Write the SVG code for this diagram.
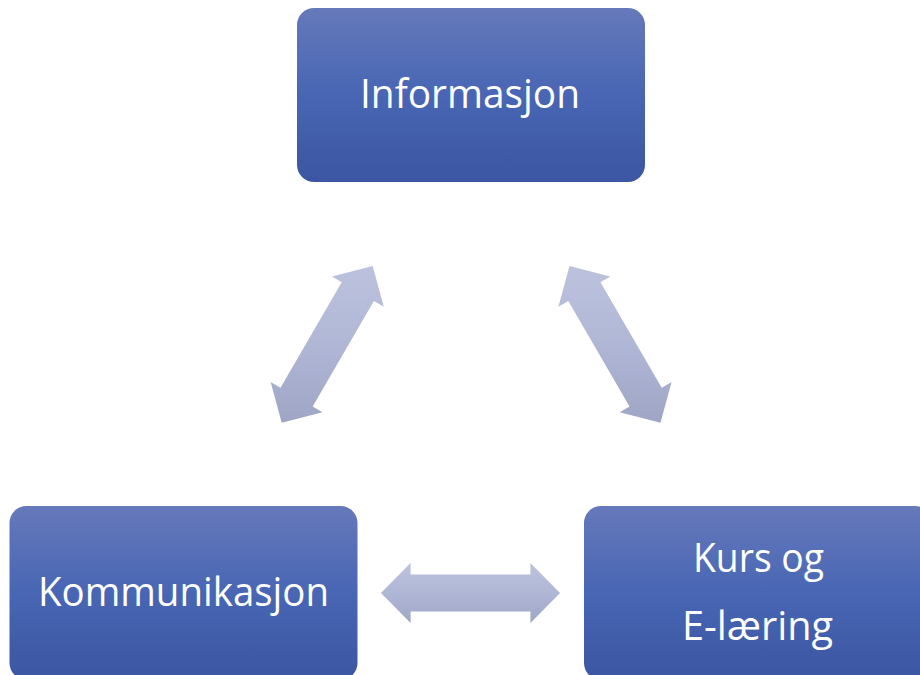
<svg xmlns="http://www.w3.org/2000/svg" width="920" height="675" viewBox="0 0 920 675">
  <defs>
    <linearGradient id="boxGrad" x1="0" y1="0" x2="0" y2="1">
      <stop offset="0" stop-color="#6679BA"/>
      <stop offset="0.5" stop-color="#4866B4"/>
      <stop offset="1" stop-color="#3B56A2"/>
    </linearGradient>
    <linearGradient id="arrowGrad" x1="0" y1="0" x2="0" y2="1">
      <stop offset="0" stop-color="#BCC2DD"/>
      <stop offset="0.5" stop-color="#B0B7D6"/>
      <stop offset="1" stop-color="#9EA5C5"/>
    </linearGradient>
    <style>
      .box { fill: url(#boxGrad); }
      .arrow { fill: url(#arrowGrad); }
      .label { font-family: "Open Sans", "Liberation Sans", sans-serif; font-size: 40px; fill: #FFFFFF; }
    </style>
  </defs>
  <rect width="920" height="675" fill="#FFFFFF"/>

  <g id="connectors">
    <polygon class="arrow" points="372.7,266 383.77,306.67 373.92,300.94 312.66,406.44 322.51,412.17 281.7,422.7 270.63,382.03 280.48,387.76 341.74,282.26 331.89,276.53"/>
    <polygon class="arrow" points="569.5,266 558.43,306.67 568.28,300.94 629.54,406.44 619.69,412.17 660.5,422.7 671.57,382.03 661.72,387.76 600.46,282.26 610.31,276.53"/>
    <polygon class="arrow" points="381,593 410.6,563 410.6,574.5 530.4,574.5 530.4,563 560,593 530.4,623 530.4,611.5 410.6,611.5 410.6,623"/>
  </g>

  <g id="node-informasjon">
    <rect class="box" x="297" y="8" width="348" height="174" rx="17" ry="17"/>
    <text class="label" x="360" y="108" textLength="220" lengthAdjust="spacingAndGlyphs">Informasjon</text>
  </g>

  <g id="node-kommunikasjon">
    <rect class="box" x="9.5" y="506" width="348" height="174" rx="17" ry="17"/>
    <text class="label" x="38" y="606" textLength="291" lengthAdjust="spacingAndGlyphs">Kommunikasjon</text>
  </g>

  <g id="node-kurs">
    <rect class="box" x="584" y="506" width="348" height="174" rx="17" ry="17"/>
    <text class="label" x="693" y="572" textLength="131" lengthAdjust="spacingAndGlyphs">Kurs og</text>
    <text class="label" x="682" y="640" textLength="151" lengthAdjust="spacingAndGlyphs">E-læring</text>
  </g>
</svg>
